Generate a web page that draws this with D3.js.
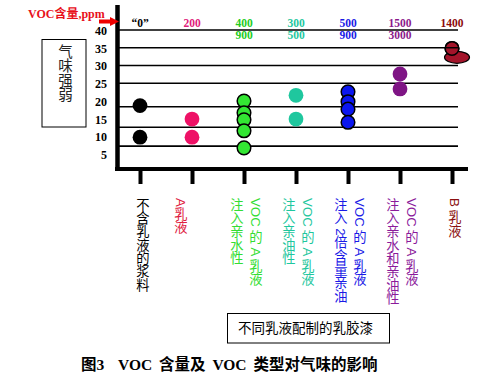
<!DOCTYPE html>
<html><head><meta charset="utf-8">
<script src="https://cdn.jsdelivr.net/npm/d3@7"></script>
<style>body{margin:0;background:#fff}svg{display:block}
.vt{writing-mode:vertical-rl;text-orientation:mixed}</style>
</head><body>
<svg id="c" width="500" height="386"></svg>
<script>
// ---- data ----
const categories = ["不含乳液的浆料","A乳液","注入亲水性VOC的A乳液","注入亲油性VOC的A乳液","注入2倍含量亲油VOC的A乳液","注入亲水和亲油性VOC的A乳液","B乳液"];
const labelColumns = [["不含乳液的浆料"],["A乳液"],["注入亲水性","VOC 的 A 乳液"],["注入亲油性","VOC 的 A 乳液"],["注入 2倍含量亲油","VOC 的 A 乳液"],["注入亲水和亲油性","VOC 的 A 乳液"],["B 乳液"]];
const odorValues = [[18.7,9.8],[14.9,9.8],[20.0,16.7,14.7,11.6,6.8],[21.6,14.9],[22.6,19.8,17.7,14.0],[27.6,23.4],[34.8,32.3]];
const vocTop = ["“0”","200","400","300","500","1500","1400"];
const vocBottom = ["","","900","500","900","3000",""];
const yTicks = [5,10,15,20,25,30,35,40];
const gridValues = [40,35,30,25,18.4,12.6,7.3];
const yTitle = "气味强弱";
const xTitle = "不同乳液配制的乳胶漆";
const vocTitle = "VOC含量,ppm";
const caption = "图3  VOC 含量及 VOC 类型对气味的影响";

// ---- styles ----
const dotFill = ["#000000","#ee1166","#33e633","#1fc79e","#0b16f0","#7f1585","#a3142a"];
const dotStroke = [null,null,"#000",null,"#000",null,"#000"];
const topColor = ["#000000","#e0207a","#22cc22","#1fc79e","#1a1ae6","#8b1a8b","#8b0a0a"];
const catTextColor = ["#000000","#e02040","#33dd33","#1fc79e","#1a1ae6","#8b1a9b","#8b1010"];

const svg = d3.select("#c");
const x = d3.scalePoint().domain(categories).range([140,452]);
const y = d3.scaleLinear().domain([5,40]).range([154.25,30]);
const axisX = 117.5, plotRight = 458;

// grid lines
svg.append("g").selectAll("line").data(gridValues).join("line")
  .attr("x1",axisX).attr("x2",plotRight)
  .attr("y1",d=>y(d)).attr("y2",d=>y(d))
  .attr("stroke","#000").attr("stroke-width",1.6);

// y axis labels
const gy = svg.append("g").attr("transform",`translate(${axisX},0.5)`)
  .call(d3.axisLeft(y).tickValues(yTicks).tickSize(0).tickPadding(10.5));
gy.select(".domain").remove();
gy.selectAll("text").attr("font-family","'Liberation Serif',serif").attr("font-weight","bold").attr("font-size",12).attr("fill","#000");

// thick y axis line
svg.append("line").attr("x1",axisX).attr("x2",axisX).attr("y1",5).attr("y2",171)
  .attr("stroke","#000").attr("stroke-width",4.5);

// bottom axis with ticks
const gx = svg.append("g").attr("transform","translate(0,169)")
  .call(d3.axisBottom(x).tickSize(15).tickFormat(""));
gx.select(".domain").remove();
gx.selectAll(".tick line").attr("stroke","#000").attr("stroke-width",4);
svg.append("line").attr("x1",115).attr("x2",468).attr("y1",169).attr("y2",169)
  .attr("stroke","#000").attr("stroke-width",4);

// points
const pts = [];
odorValues.forEach((vals,i)=>vals.forEach((v,j)=>pts.push({i,j,v,cat:categories[i]})));
const gp = svg.append("g");
pts.forEach(p=>{
  const cx = x(p.cat), cy = y(p.v);
  if (p.i===6 && p.j===1) {
    gp.append("ellipse").attr("cx",cx+5).attr("cy",cy).attr("rx",12.5).attr("ry",6)
      .attr("fill",dotFill[p.i]).attr("stroke","#000").attr("stroke-width",1.2);
  } else {
    const s = dotStroke[p.i];
    gp.append("circle").attr("cx",cx).attr("cy",cy).attr("r",s? 6.8:7.4)
      .attr("fill",dotFill[p.i]).attr("stroke",s||"none").attr("stroke-width",s?1.5:0);
  }
});
{
  const cx = x(categories[6]), cy = y(odorValues[6][0]);
  gp.append("circle").attr("cx",cx).attr("cy",cy).attr("r",6.8)
    .attr("fill",dotFill[6]).attr("stroke","#000").attr("stroke-width",1.5);
  gp.append("line").attr("x1",cx-7).attr("x2",cx+7).attr("y1",y(35)).attr("y2",y(35)).attr("stroke","#000").attr("stroke-width",1.4);
}

// top VOC labels
const topFont = "'Liberation Serif',serif";
svg.append("g").selectAll("text").data(vocTop).join("text")
  .attr("x",(d,i)=>x(categories[i])).attr("y",27)
  .attr("text-anchor","middle").attr("font-family",topFont).attr("font-weight","bold")
  .attr("font-size",11.5).attr("fill",(d,i)=>topColor[i]).text(d=>d);
svg.append("g").selectAll("text").data(vocBottom).join("text")
  .attr("x",(d,i)=>x(categories[i])).attr("y",39)
  .attr("text-anchor","middle").attr("font-family",topFont).attr("font-weight","bold")
  .attr("font-size",11.5).attr("fill",(d,i)=>topColor[i]).text(d=>d);

// VOC title + arrow
svg.append("text").attr("x",28).attr("y",18).attr("font-family","'Liberation Serif','Noto Sans CJK SC',serif")
  .attr("font-weight","bold").attr("font-size",12).attr("fill","#e8101a").text(vocTitle);
svg.append("path").attr("d","M99,19.5 L110,19.5 L110,17 L119,21.5 L110,26 L110,23.5 L99,23.5 Z").attr("fill","#ee0000");

// vertical text (one element per column)
function vtext(g, str, cx, top, size, color){
  return g.append("text").attr("class","vt").attr("x",cx).attr("y",top)
    .attr("font-family","'Liberation Sans','Noto Sans CJK SC',sans-serif")
    .attr("font-size",size).attr("fill",color).style("white-space","pre").text(str);
}
const gl = svg.append("g");
labelColumns.forEach((cols,i)=>{
  const cx = x(categories[i]);
  if (cols.length===1) vtext(gl, cols[0], cx + (i===1? -12 : 2), 198, 13.3, catTextColor[i]);
  else { vtext(gl, cols[0], cx-8, 198, 13.3, catTextColor[i]); vtext(gl, cols[1], cx+11, 198, 13.3, catTextColor[i]); }
});

// y title box
svg.append("rect").attr("x",42).attr("y",39.5).attr("width",44).attr("height",87.5)
  .attr("fill","none").attr("stroke","#000").attr("stroke-width",1);
vtext(svg.append("g"), yTitle, 64, 44, 14.5, "#222");

// x title box
svg.append("rect").attr("x",227.5).attr("y",313.5).attr("width",162).attr("height",29.5)
  .attr("fill","none").attr("stroke","#000").attr("stroke-width",1);
svg.append("text").attr("x",238).attr("y",333).attr("font-family","'Noto Sans CJK SC',sans-serif")
  .attr("font-size",13.5).attr("fill","#000").text(xTitle);

// caption
svg.append("text").attr("x",81).attr("y",370).attr("font-family","'Liberation Serif','Noto Sans CJK SC',serif")
  .attr("font-weight","bold").attr("font-size",15.5).attr("word-spacing",3).attr("fill","#000")
  .style("white-space","pre").text(caption);
</script>
</body></html>
